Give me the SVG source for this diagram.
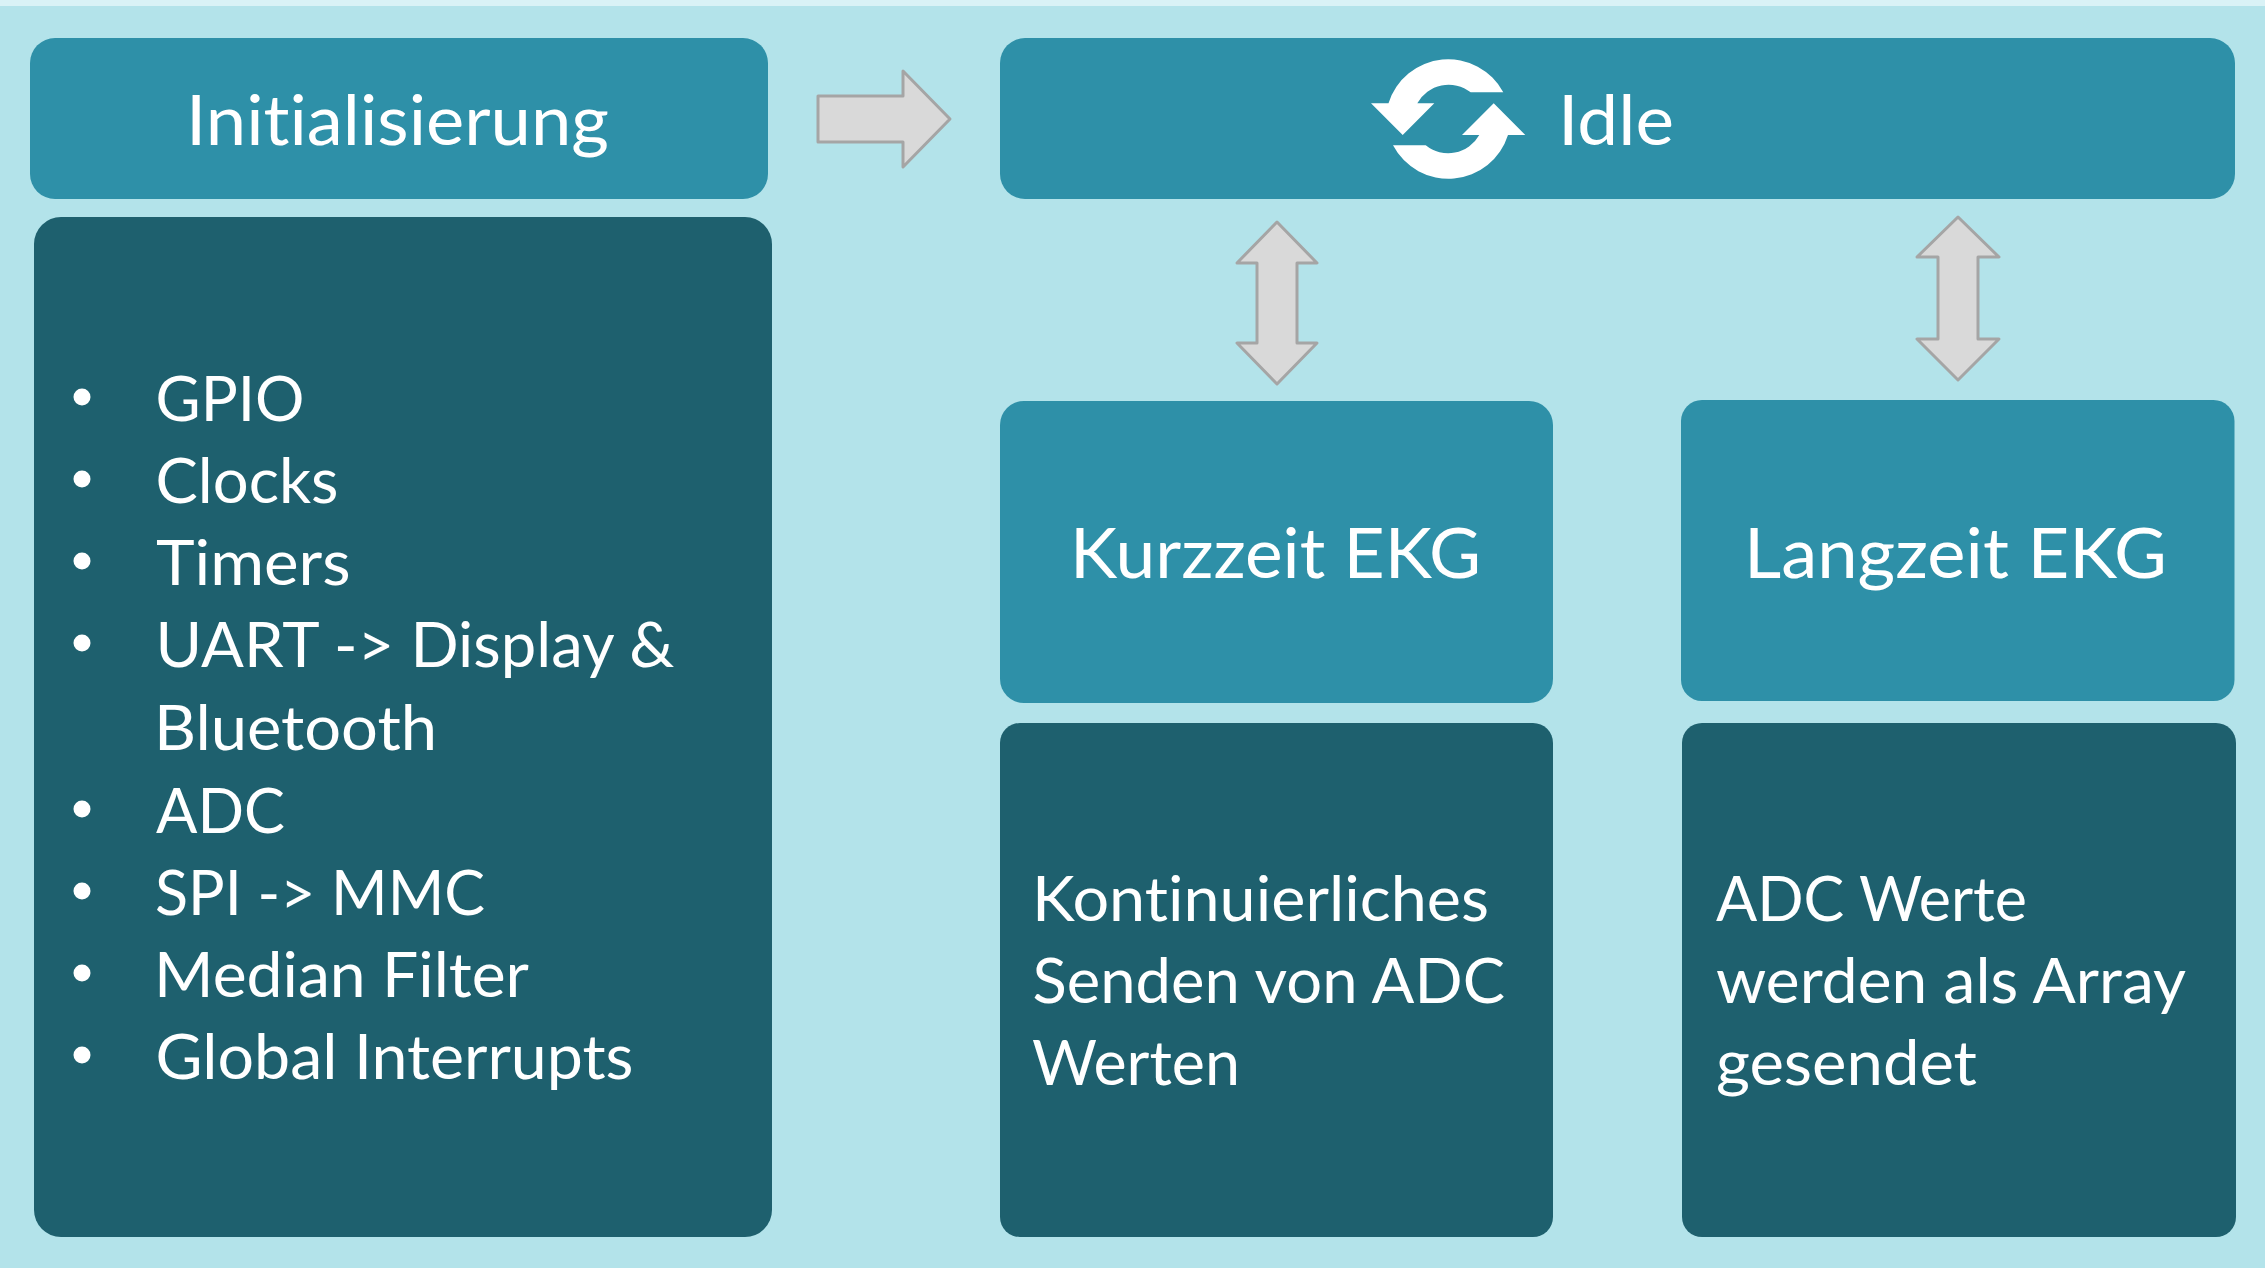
<svg xmlns="http://www.w3.org/2000/svg" width="2265" height="1268" viewBox="0 0 2265 1268">
<style>
.hd{fill:#2e90a8}
.dk{fill:#1e606e}
text{font-family:"Lato","Noto Sans","Liberation Sans",sans-serif;fill:#fff;font-variant-ligatures:none}
.t{font-size:70px}
.b{font-size:61px}
.ar{fill:#d9d9d9;stroke:#a5a5a5;stroke-width:3;stroke-linejoin:round}
</style>
<rect width="2265" height="1268" fill="#b3e3ea"/>
<rect width="2265" height="6" fill="#d9f2f6"/>
<g id="connectors">
<polygon class="ar" points="818,96 903,96 903,71 950,119 903,167 903,142 818,142"/>
<polygon class="ar" points="1277,222 1317,263 1297,263 1297,343 1317,343 1277,384 1237,343 1257,343 1257,263 1237,263"/>
<polygon class="ar" points="1958,217 1999,257 1978,257 1978,339 1999,339 1958,380 1917,339 1938,339 1938,257 1917,257"/>
</g>
<g id="node-init">
<rect class="hd" x="30" y="38" width="738" height="161" rx="25"/>
<text class="t" x="186" y="145" textLength="423" lengthAdjust="spacingAndGlyphs">Initialisierung</text>
</g>
<g id="node-init-list">
<rect class="dk" x="34" y="217" width="738" height="1020" rx="27"/>
<g fill="#fff">
<circle cx="82" cy="397" r="8.500"/><circle cx="82" cy="479" r="8.500"/><circle cx="82" cy="561" r="8.500"/><circle cx="82" cy="643" r="8.500"/><circle cx="82" cy="809" r="8.500"/><circle cx="82" cy="891" r="8.500"/><circle cx="82" cy="973" r="8.500"/><circle cx="82" cy="1055" r="8.500"/>
</g>
<text class="b" x="155.500" y="421" textLength="149" lengthAdjust="spacingAndGlyphs">GPIO</text>
<text class="b" x="155.500" y="503" textLength="183" lengthAdjust="spacingAndGlyphs">Clocks</text>
<text class="b" x="156" y="585" textLength="194.500" lengthAdjust="spacingAndGlyphs">Timers</text>
<text class="b" x="155.500" y="667" textLength="519" lengthAdjust="spacingAndGlyphs">UART -&gt; Display &amp;</text>
<text class="b" x="154" y="749.500" textLength="283" lengthAdjust="spacingAndGlyphs">Bluetooth</text>
<text class="b" x="156" y="832.500" textLength="129" lengthAdjust="spacingAndGlyphs">ADC</text>
<text class="b" x="155" y="914.500" textLength="330" lengthAdjust="spacingAndGlyphs">SPI -&gt; MMC</text>
<text class="b" x="154" y="997" textLength="375" lengthAdjust="spacingAndGlyphs">Median Filter</text>
<text class="b" x="155.500" y="1079" textLength="478" lengthAdjust="spacingAndGlyphs">Global Interrupts</text>
</g>
<g id="node-idle">
<rect class="hd" x="1000" y="38" width="1235" height="161" rx="25"/>
<g fill="#fff">
<path d="M1503.300 92.300A62.500 62.500 0 0 0 1388.500 103.300H1371L1402.700 135L1434.300 103.300H1417.300A35.700 35.700 0 0 1 1470.700 92.300Z"/>
<path d="M1393 145.300A62.500 62.500 0 0 0 1508 135H1525.300L1493.700 103.300L1462 135H1479.300A35.700 35.700 0 0 1 1425.700 145.300Z"/>
</g>
<text class="t" x="1558" y="145" textLength="116" lengthAdjust="spacingAndGlyphs">Idle</text>
</g>
<g id="node-kurzzeit">
<rect class="hd" x="1000" y="401" width="553" height="302" rx="24"/>
<text class="t" x="1070" y="578" textLength="411" lengthAdjust="spacingAndGlyphs">Kurzzeit EKG</text>
</g>
<g id="node-langzeit">
<rect class="hd" x="1681" y="400" width="553.500" height="301" rx="21"/>
<text class="t" x="1744" y="578" textLength="423" lengthAdjust="spacingAndGlyphs">Langzeit EKG</text>
</g>
<g id="node-kurzzeit-text">
<rect class="dk" x="1000" y="723" width="553" height="514" rx="20"/>
<text class="b" x="1032" y="921" textLength="457" lengthAdjust="spacingAndGlyphs">Kontinuierliches</text>
<text class="b" x="1032.500" y="1003" textLength="472.500" lengthAdjust="spacingAndGlyphs">Senden von ADC</text>
<text class="b" x="1032" y="1085" textLength="208" lengthAdjust="spacingAndGlyphs">Werten</text>
</g>
<g id="node-langzeit-text">
<rect class="dk" x="1682" y="723" width="554" height="514" rx="20"/>
<text class="b" x="1716" y="921" textLength="311" lengthAdjust="spacingAndGlyphs">ADC Werte</text>
<text class="b" x="1716" y="1003" textLength="470" lengthAdjust="spacingAndGlyphs">werden als Array</text>
<text class="b" x="1716" y="1085" textLength="261" lengthAdjust="spacingAndGlyphs">gesendet</text>
</g>
</svg>
